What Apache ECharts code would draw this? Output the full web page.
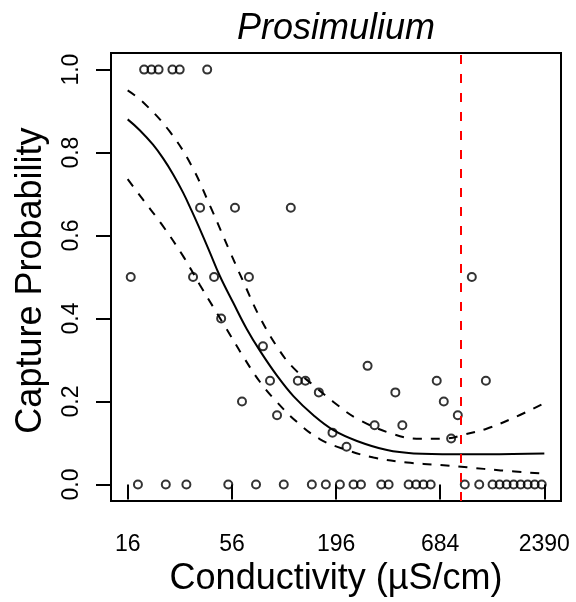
<!DOCTYPE html>
<html><head><meta charset="utf-8">
<script src="https://cdn.jsdelivr.net/npm/echarts@6/dist/echarts.min.js"></script>
<style>html,body{margin:0;padding:0;background:#fff}#c{width:576px;height:602px}</style>
</head><body><div id="c"></div>
<script>
const titleText = 'Prosimulium';
const xTitle = 'Conductivity (µS/cm)';
const yTitle = 'Capture Probability';
const xTickValues = [16, 56, 196, 684, 2390];
const xTickLabels = ['16', '56', '196', '684', '2390'];
const yTickValues = [0, 0.2, 0.4, 0.6, 0.8, 1.0];

const obsConductivity = [
  19.5, 21.3, 23.2, 27.4, 29.9, 41.6,
  38.2, 58.1, 113.6,
  16.6, 35.1, 45.2, 68.7, 1000,
  49.2, 81.3, 285.8,
  88.5, 123.6, 135.4, 656, 1184,
  159.1, 399, 63.2, 714, 96.3, 845,
  311, 434, 187.5, 780, 221.9,
  18.1, 25.3, 32.4, 53.6, 74.8, 104.4, 146.3, 173.1, 204.9, 241.4, 263.9,
  337, 368, 468, 512, 559, 610, 919, 1093, 1283, 1396, 1519, 1653, 1798,
  1957, 2129, 2316
];
const obsProbability = [
  1, 1, 1, 1, 1, 1,
  0.667, 0.667, 0.667,
  0.5, 0.5, 0.5, 0.5, 0.5,
  0.4, 0.333, 0.286,
  0.25, 0.25, 0.25, 0.25, 0.25,
  0.222, 0.222, 0.2, 0.2, 0.167, 0.167,
  0.143, 0.143, 0.125, 0.111, 0.091,
  0, 0, 0, 0, 0, 0, 0, 0, 0, 0, 0,
  0, 0, 0, 0, 0, 0, 0, 0, 0, 0, 0, 0, 0,
  0, 0, 0
];

const fitConductivity = [16, 18.5, 21.7, 24.5, 27.6, 31.1, 34.5, 38.9, 43.0, 48.5, 56.9, 66.9, 78.5, 96.0, 117.2, 149.1, 189.7, 251.5, 361, 497, 805, 1204, 2390];
const fitProbability = [0.880, 0.854, 0.819, 0.786, 0.748, 0.704, 0.660, 0.606, 0.559, 0.502, 0.438, 0.375, 0.322, 0.263, 0.213, 0.167, 0.131, 0.105, 0.083, 0.075, 0.073, 0.073, 0.075];

const upperConductivity = [16, 19.2, 26.5, 34.5, 43.3, 54.7, 64.2, 78.5, 99.8, 117.2, 149.1, 189.7, 251.5, 391, 539, 744, 908, 1204, 1659, 2390];
const upperProbability = [0.950, 0.922, 0.851, 0.768, 0.669, 0.561, 0.489, 0.402, 0.321, 0.281, 0.239, 0.199, 0.159, 0.121, 0.110, 0.111, 0.120, 0.135, 0.161, 0.196];

const lowerConductivity = [16, 19.2, 24.0, 31.1, 38.1, 52.5, 64.2, 78.5, 96.0, 122.1, 161.6, 223, 307, 459, 686, 946, 1413, 2390];
const lowerProbability = [0.736, 0.687, 0.628, 0.551, 0.481, 0.375, 0.308, 0.247, 0.199, 0.151, 0.109, 0.083, 0.065, 0.053, 0.047, 0.0415, 0.034, 0.026];

const thresholdConductivity = 870;

const ln = Math.log;
const lnMin = ln(xTickValues[0]);
const lnMax = ln(xTickValues[xTickValues.length - 1]);
const pad = 0.04 * (lnMax - lnMin);
const pairs = (xs, ys) => xs.map((x, i) => [ln(x), ys[i]]);
const FONT = 'Liberation Sans, Arial, Helvetica, sans-serif';
const xTickPos = xTickValues.map(ln);

const chart = echarts.init(document.getElementById('c'), null, {renderer: 'canvas'});
const dashed = {color: '#000', width: 2, type: [9, 9]};
chart.setOption({
  animation: false,
  backgroundColor: '#fff',
  title: {
    text: titleText, left: 336, top: 11, textAlign: 'center', padding: 0,
    textStyle: {fontFamily: FONT, fontStyle: 'italic', fontWeight: 'normal', fontSize: 36, color: '#000'}
  },
  grid: {left: 111, right: 15, top: 53, bottom: 100, show: true, borderColor: '#000', borderWidth: 2, backgroundColor: 'transparent'},
  xAxis: {
    type: 'value', min: lnMin - pad, max: lnMax + pad,
    splitLine: {show: false},
    axisLine: {show: false},
    axisTick: {show: true, length: 15, lineStyle: {color: '#000', width: 2}, customValues: xTickPos},
    axisLabel: {
      customValues: xTickPos, margin: 32, fontSize: 23, color: '#000', fontFamily: FONT, fontWeight: 'normal',
      formatter: v => {
        let best = 0;
        xTickPos.forEach((p, i) => { if (Math.abs(p - v) < Math.abs(xTickPos[best] - v)) best = i; });
        return xTickLabels[best];
      }
    },
    name: xTitle, nameLocation: 'middle', nameGap: 59,
    nameTextStyle: {fontFamily: FONT, fontSize: 36, color: '#000'}
  },
  yAxis: {
    type: 'value', min: -0.04, max: 1.04,
    splitLine: {show: false},
    axisLine: {show: false},
    axisTick: {show: true, length: 15, lineStyle: {color: '#000', width: 2}, customValues: yTickValues},
    axisLabel: {
      customValues: yTickValues, rotate: 90, margin: 28, fontSize: 23, color: '#000', fontFamily: FONT, fontWeight: 'normal',
      formatter: v => v.toFixed(1)
    },
    name: yTitle, nameLocation: 'middle', nameGap: 62, nameRotate: 90,
    nameTextStyle: {fontFamily: FONT, fontSize: 36, color: '#000', padding: [0, 7, 0, 0]}
  },
  series: [
    {
      type: 'scatter', data: pairs(obsConductivity, obsProbability),
      symbol: 'circle', symbolSize: 8,
      itemStyle: {color: 'rgba(0,0,0,0)', borderColor: '#000', borderWidth: 2},
      z: 3
    },
    {
      type: 'line', data: pairs(fitConductivity, fitProbability), smooth: 0.4,
      showSymbol: false, lineStyle: {color: '#000', width: 2}, z: 4
    },
    {
      type: 'line', data: pairs(upperConductivity, upperProbability), smooth: 0.4,
      showSymbol: false, lineStyle: dashed, z: 4
    },
    {
      type: 'line', data: pairs(lowerConductivity, lowerProbability), smooth: 0.4,
      showSymbol: false, lineStyle: dashed, z: 4,
      markLine: {
        silent: true, symbol: ['none', 'none'], label: {show: false},
        lineStyle: {color: '#ff0000', width: 2, type: [9, 10]},
        data: [{xAxis: ln(thresholdConductivity)}]
      }
    }
  ]
});
</script>
</body></html>
